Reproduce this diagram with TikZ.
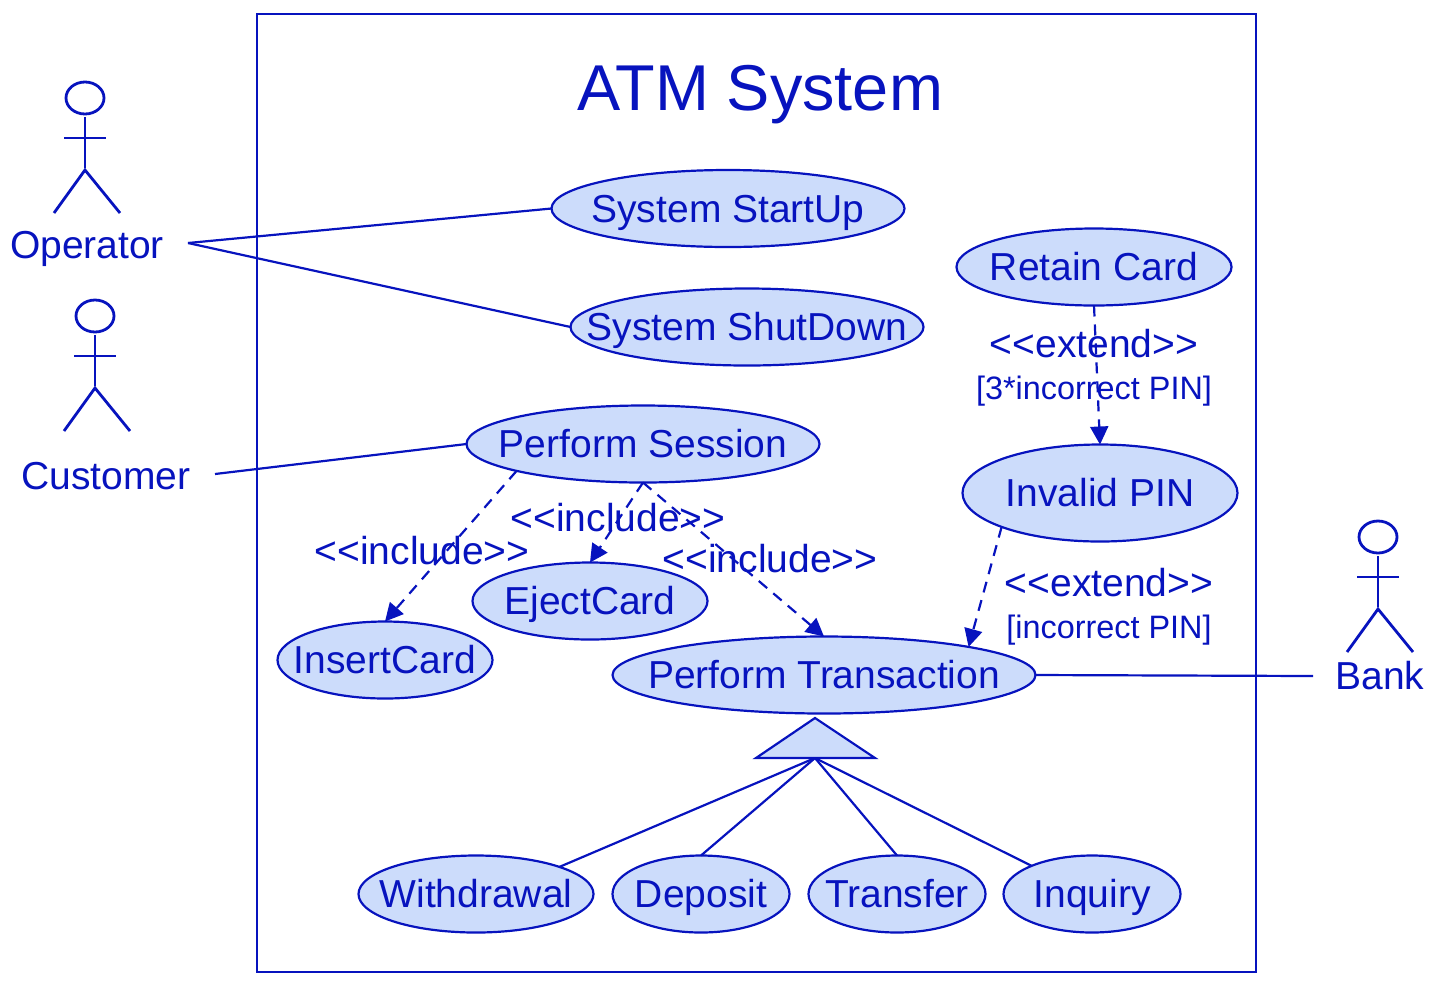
\documentclass[tikz,border=0pt]{standalone}
\usepackage{fontspec}
\setmainfont{Liberation Sans}
\usetikzlibrary{shapes.geometric,arrows.meta}
\definecolor{umlblue}{HTML}{0713BE}
\definecolor{umlfill}{HTML}{CCDCFB}
\newcommand{\uctext}[1]{\makebox[0pt]{#1}}
\tikzset{
  x=0.5pt,y=-0.5pt,
  capcentre/.style={inner sep=0pt,outer sep=0pt,text depth=0pt,text=umlblue},
  usecase/.style={ellipse,draw=umlblue,fill=umlfill,line width=1.1pt,minimum height=38.5pt,capcentre,text height=13.96pt,font=\fontsize{19.5}{22}\selectfont},
  uclabel/.style={capcentre,text height=13.96pt,font=\fontsize{19.5}{22}\selectfont},
  guard/.style={capcentre,text height=11.6pt,font=\fontsize{16.2}{19}\selectfont},
  assoc/.style={draw=umlblue,line width=1.1pt},
  dep/.style={draw=umlblue,line width=1.1pt,dash pattern=on 5.5pt off 4pt,-{Stealth[inset=0pt,length=9pt,width=9pt]}},
  actor/.pic={
    \draw[umlblue,line width=1.4pt] (0,0) ellipse[x radius=19,y radius=16];
    \draw[umlblue,line width=1.4pt] (0,19) -- (0,70) (-21,40) -- (21,40);
    \draw[umlblue,line width=1.4pt] (-31,115) -- (0,72) -- (35,115);
  }
}
\begin{document}
\begin{tikzpicture}
\useasboundingbox (0,0) rectangle (1438,986);
\draw[umlblue,line width=1.1pt] (257,14) rectangle (1256,972);
\node[capcentre,text height=23pt,font=\fontsize{32.4}{38}\selectfont] (title) at (760,87) {ATM System};

\pic at (85,98) {actor};
\pic at (95,316) {actor};
\pic at (1378,537) {actor};
\node[uclabel] (operator) at (87,245) {Operator};
\node[uclabel] (customer) at (106,476) {Customer};
\node[uclabel] (bank) at (1380,676) {Bank};
\coordinate (opend) at (188,243);
\coordinate (cuend) at (215,474);
\coordinate (baend) at (1313,676);

\node[usecase,minimum width=176.5pt] (su) at (728,208.5) {\uctext{System StartUp}};
\node[usecase,minimum width=176.5pt] (sd) at (747,327) {\uctext{System ShutDown}};
\node[usecase,minimum width=137.5pt] (rc) at (1094,267) {\uctext{Retain Card}};
\node[usecase,minimum width=137.5pt,minimum height=48.5pt] (ip) at (1100,493) {\uctext{Invalid PIN}};
\node[usecase,minimum width=176.5pt] (ps) at (643,444) {\uctext{Perform Session}};
\node[usecase,minimum width=117.5pt] (ec) at (590,601) {\uctext{EjectCard}};
\node[usecase,minimum width=107.5pt] (ic) at (385,660) {\uctext{InsertCard}};
\node[usecase,minimum width=211.5pt] (pt) at (824,675) {\uctext{Perform Transaction}};
\node[usecase,minimum width=117.5pt] (wd) at (476,894) {\uctext{Withdrawal}};
\node[usecase,minimum width=88.5pt] (de) at (701,894) {\uctext{Deposit}};
\node[usecase,minimum width=88.5pt] (tr) at (897,894) {\uctext{Transfer}};
\node[usecase,minimum width=88.5pt] (in) at (1092,894) {\uctext{Inquiry}};

\path[assoc] (opend) -- (su.west);
\path[assoc] (opend) -- (sd.west);
\path[assoc] (cuend) -- (ps.west);
\path[assoc] (pt.east) -- (baend);

\path[dep] (ps.192.6) -- (ic.north);
\path[dep] (ps.south) -- (ec.north);
\path[dep] (ps.south) -- (pt.north);
\path[dep] (rc.south) -- (ip.north);
\path[dep] (ip.199.65) -- (pt.11.1);

\draw[umlblue,fill=umlfill,line width=1.1pt] (815,718) -- (875,758) -- (756,758) -- cycle;
\coordinate (apex) at (815,758);
\path[assoc] (apex) -- (wd.18.4);
\path[assoc] (apex) -- (de.north);
\path[assoc] (apex) -- (tr.north);
\path[assoc] (apex) -- (in.155.7);

\node[uclabel] (l1) at (422,551) {<{}<include>{}>};
\node[uclabel] (l2) at (618,518) {<{}<include>{}>};
\node[uclabel] (l3) at (770,559) {<{}<include>{}>};
\node[uclabel] (l4) at (1094,344) {<{}<extend>{}>};
\node[guard] (g4) at (1094,388) {[3*incorrect PIN]};
\node[uclabel] (l5) at (1109,583) {<{}<extend>{}>};
\node[guard] (g5) at (1109,627) {[incorrect PIN]};
\end{tikzpicture}
\end{document}
